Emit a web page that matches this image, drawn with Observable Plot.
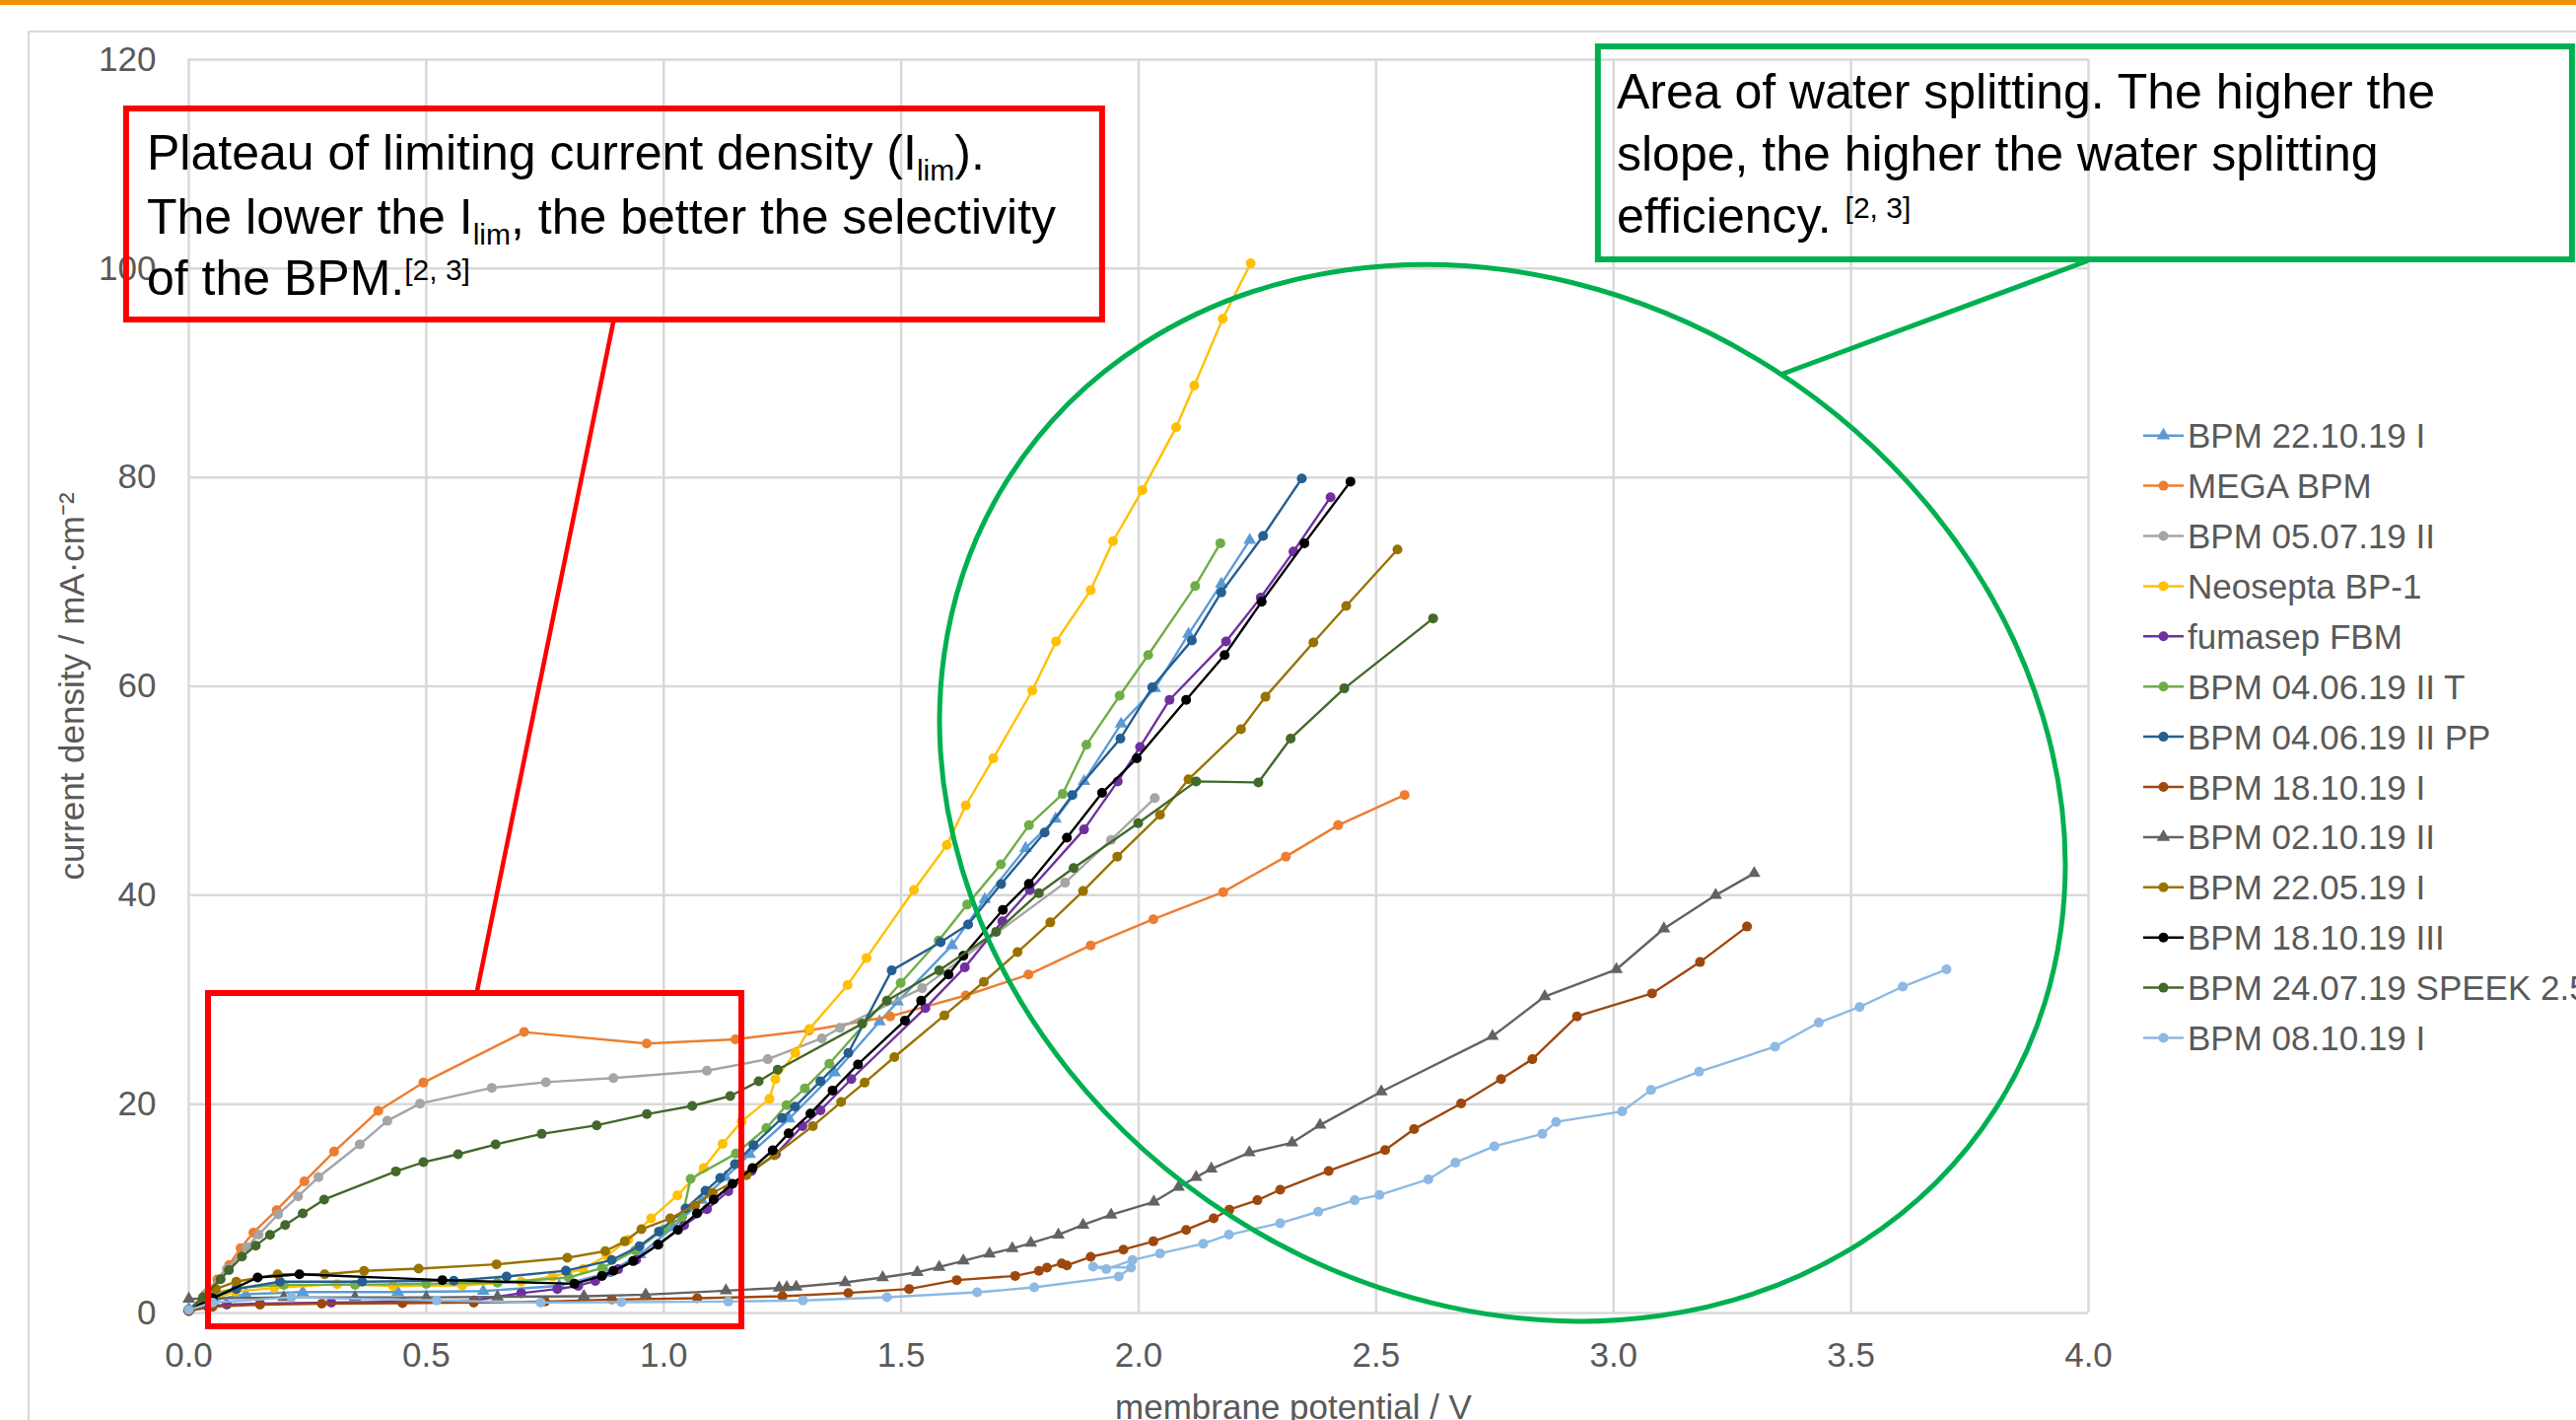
<!DOCTYPE html>
<html><head><meta charset="utf-8">
<script src="https://cdn.jsdelivr.net/npm/d3@7"></script>
<script src="https://cdn.jsdelivr.net/npm/@observablehq/plot@0.6"></script>
<style>
html,body{margin:0;padding:0;background:#fff;overflow:hidden;}
svg{display:block;overflow:hidden;}
</style></head><body>
<script>
// ---------- axis ticks ----------
const xTicks = [0, 0.5, 1, 1.5, 2, 2.5, 3, 3.5, 4];
const yTicks = [0, 20, 40, 60, 80, 100, 120];
const xLabel = "membrane potential / V";
const yLabel = "current density / mA·cm⁻²";

// ---------- series (membrane potential V, current density mA/cm²) ----------
const bpm221019I = [[0,0.4],[0.05,1.2],[0.12,1.8],[0.24,2.0],[0.44,2.0],[0.62,2.1],[0.78,2.6],[0.88,3.8],[0.95,5.6],[1.02,8.2],[1.08,10.8],[1.13,13.0],[1.181,15.2],[1.264,18.6],[1.36,23.0],[1.4545,27.9],[1.4925,29.8],[1.607,35.2],[1.676,39.6],[1.762,44.5],[1.825,47.3],[1.885,50.9],[1.963,56.4],[2.034,59.8],[2.105,65.0],[2.174,69.8],[2.234,74.0]];
const megaBPM = [[0,0.3],[0.035,1.8],[0.06,3.2],[0.085,4.6],[0.109,6.2],[0.136,7.7],[0.185,9.85],[0.2435,12.6],[0.306,15.45],[0.399,19.35],[0.494,22.06],[0.706,26.9],[0.964,25.8],[1.151,26.2],[1.306,27.05],[1.477,28.4],[1.636,30.4],[1.768,32.4],[1.899,35.2],[2.031,37.7],[2.178,40.3],[2.31,43.7],[2.42,46.7],[2.56,49.6]];
const bpm050719II = [[0,0.3],[0.04,2.0],[0.08,4.2],[0.122,6.3],[0.147,7.5],[0.188,9.44],[0.23,11.17],[0.273,13.0],[0.36,16.14],[0.418,18.4],[0.487,20.05],[0.638,21.56],[0.752,22.1],[0.894,22.5],[1.091,23.2],[1.219,24.3],[1.333,26.3],[1.371,27.3],[1.544,31.1],[1.845,41.2],[1.942,45.3],[2.034,49.3]];
const neoseptaBP1 = [[0,0.3],[0.05,1.3],[0.098,2.05],[0.18,2.4],[0.3125,2.77],[0.43,2.6],[0.576,2.65],[0.7,3.0],[0.766,3.5],[0.83,4.2],[0.88,5.5],[0.925,7.0],[0.9735,9.06],[1.029,11.27],[1.084,13.88],[1.124,16.2],[1.164,18.35],[1.2226,20.5],[1.235,22.4],[1.277,24.9],[1.307,27.2],[1.387,31.4],[1.427,34.0],[1.527,40.5],[1.596,44.8],[1.636,48.6],[1.694,53.1],[1.776,59.6],[1.826,64.3],[1.899,69.2],[1.946,73.9],[2.008,78.8],[2.079,84.8],[2.117,88.8],[2.177,95.2],[2.236,100.5]];
const fumasepFBM = [[0,0.2],[0.04,0.6],[0.08,0.8],[0.15,0.9],[0.3,1.0],[0.45,1.1],[0.6,1.2],[0.7,1.9],[0.776,2.3],[0.82,2.6],[0.856,3.08],[0.904,4.19],[0.942,5.1],[0.987,6.54],[1.043,8.4],[1.091,9.94],[1.136,11.67],[1.185,13.6],[1.236,15.2],[1.292,17.9],[1.33,19.4],[1.395,22.4],[1.551,29.2],[1.634,33.1],[1.713,37.5],[1.771,40.5],[1.885,46.3],[1.956,50.9],[2.003,54.2],[2.065,58.7],[2.184,64.3],[2.257,68.5],[2.326,72.9],[2.404,78.1]];
const bpm040619IIT = [[0,0.3],[0.05,1.8],[0.1,2.4],[0.2,2.7],[0.35,2.7],[0.5,2.8],[0.65,2.9],[0.8,3.4],[0.87,4.3],[0.94,6.0],[1.0,8.0],[1.039,9.2],[1.0566,12.84],[1.152,15.26],[1.216,17.7],[1.2585,19.9],[1.297,21.5],[1.3486,23.86],[1.499,31.6],[1.579,35.66],[1.639,39.1],[1.71,42.96],[1.769,46.7],[1.84,49.7],[1.89,54.4],[1.96,59.1],[2.02,63.0],[2.119,69.6],[2.172,73.7]];
const bpm040619IIPP = [[0,0.3],[0.05,1.5],[0.1,2.3],[0.192,3.0],[0.365,3.0],[0.558,3.1],[0.669,3.5],[0.794,4.05],[0.8905,5.07],[0.949,6.4],[0.99,7.8],[1.046,10.0],[1.088,11.7],[1.119,12.93],[1.15,14.26],[1.189,16.08],[1.249,18.66],[1.2766,19.76],[1.33,22.19],[1.3887,24.9],[1.48,32.8],[1.583,35.5],[1.641,37.2],[1.7104,41.07],[1.802,46.0],[1.8605,49.6],[1.9616,55.0],[2.0286,59.9],[2.112,64.4],[2.174,69.0],[2.262,74.4],[2.3435,79.9]];
const bpm181019I = [[0,0.2],[0.05,0.6],[0.15,0.8],[0.28,0.9],[0.45,0.95],[0.6,1.0],[0.75,1.1],[0.8905,1.29],[1.0705,1.42],[1.25,1.6],[1.3887,1.92],[1.5167,2.3],[1.617,3.15],[1.74,3.55],[1.79,4.03],[1.807,4.34],[1.838,4.75],[1.849,4.56],[1.899,5.38],[1.968,6.07],[2.031,6.86],[2.1,7.96],[2.158,9.06],[2.191,9.9],[2.25,10.8],[2.298,11.8],[2.4,13.6],[2.519,15.6],[2.58,17.6],[2.679,20.06],[2.763,22.4],[2.829,24.3],[2.923,28.4],[3.081,30.6],[3.182,33.6],[3.281,37.0]];
const bpm021019II = [[0,1.35],[0.05,1.4],[0.2,1.5],[0.35,1.5],[0.5,1.5],[0.65,1.55],[0.832,1.6],[0.962,1.76],[1.131,2.14],[1.243,2.4],[1.259,2.45],[1.279,2.5],[1.382,2.93],[1.461,3.4],[1.534,3.9],[1.58,4.4],[1.631,5.0],[1.686,5.66],[1.734,6.18],[1.773,6.7],[1.831,7.49],[1.883,8.43],[1.942,9.4],[2.032,10.64],[2.084,12.06],[2.121,13.0],[2.153,13.8],[2.233,15.36],[2.323,16.3],[2.382,18.0],[2.511,21.2],[2.745,26.5],[2.855,30.3],[3.006,32.9],[3.106,36.8],[3.215,40.0],[3.296,42.1]];
const bpm220519I = [[0,0.3],[0.057,2.3],[0.1,3.0],[0.187,3.7],[0.286,3.71],[0.369,4.03],[0.484,4.25],[0.648,4.66],[0.797,5.29],[0.877,5.92],[0.918,6.86],[0.953,8.02],[1.0137,9.06],[1.066,10.3],[1.103,11.49],[1.174,13.2],[1.233,15.1],[1.314,17.9],[1.3735,20.2],[1.423,22.06],[1.4856,24.5],[1.591,28.5],[1.674,31.7],[1.745,34.55],[1.814,37.4],[1.883,40.4],[1.955,43.7],[2.045,47.7],[2.105,51.1],[2.2155,55.9],[2.267,59.0],[2.368,64.2],[2.437,67.7],[2.545,73.1]];
const bpm181019III = [[0,0.3],[0.05,1.4],[0.145,3.4],[0.233,3.71],[0.534,3.15],[0.812,2.8],[0.87,3.55],[0.894,4.03],[0.9355,4.97],[0.9887,6.54],[1.03,7.96],[1.07,9.54],[1.105,10.86],[1.145,12.37],[1.187,13.88],[1.2295,15.58],[1.263,17.2],[1.309,19.1],[1.3555,21.3],[1.409,23.8],[1.508,28.0],[1.542,29.9],[1.5998,32.4],[1.631,34.2],[1.714,38.6],[1.769,41.1],[1.849,45.5],[1.923,49.8],[1.996,53.1],[2.1,58.7],[2.181,63.0],[2.259,68.1],[2.349,73.7],[2.446,79.6]];
const bpm240719SPEEK = [[0,0.3],[0.03,1.5],[0.067,3.24],[0.0844,4.1],[0.112,5.4],[0.141,6.45],[0.171,7.49],[0.203,8.43],[0.24,9.54],[0.285,10.86],[0.436,13.56],[0.494,14.44],[0.567,15.2],[0.646,16.14],[0.743,17.15],[0.859,17.97],[0.9645,19.04],[1.06,19.83],[1.14,20.77],[1.2,22.19],[1.24,23.3],[1.418,27.7],[1.47,29.9],[1.58,32.8],[1.7,36.5],[1.79,40.2],[1.863,42.6],[1.999,46.9],[2.121,50.9],[2.252,50.8],[2.32,55.0],[2.433,59.8],[2.62,66.5]];
const bpm081019I = [[0,0.3],[0.05,1.0],[0.216,1.5],[0.522,1.2],[0.741,1.0],[0.911,1.04],[1.136,1.1],[1.293,1.2],[1.47,1.51],[1.66,1.98],[1.78,2.45],[1.958,3.5],[1.984,4.34],[1.904,4.44],[1.932,4.2],[1.987,5.07],[2.045,5.7],[2.136,6.64],[2.19,7.5],[2.298,8.6],[2.378,9.7],[2.455,10.8],[2.507,11.3],[2.61,12.8],[2.667,14.4],[2.749,15.96],[2.85,17.15],[2.879,18.3],[3.018,19.3],[3.079,21.35],[3.18,23.1],[3.34,25.5],[3.432,27.8],[3.518,29.3],[3.609,31.25],[3.701,32.9]];

const seriesNames = ["BPM 22.10.19 I","MEGA BPM","BPM 05.07.19 II","Neosepta BP-1","fumasep FBM","BPM 04.06.19 II T","BPM 04.06.19 II PP","BPM 18.10.19 I","BPM 02.10.19 II","BPM 22.05.19 I","BPM 18.10.19 III","BPM 24.07.19 SPEEK 2.5","BPM 08.10.19 I"];
const seriesData = [bpm221019I, megaBPM, bpm050719II, neoseptaBP1, fumasepFBM, bpm040619IIT, bpm040619IIPP, bpm181019I, bpm021019II, bpm220519I, bpm181019III, bpm240719SPEEK, bpm081019I];
const seriesColors = ["#5B9BD5","#ED7D31","#A5A5A5","#FFC000","#7030A0","#70AD47","#255E91","#9E480E","#636363","#997300","#000000","#43682B","#8DB9E3"];
const seriesSymbols = ["triangle","circle","circle","circle","circle","circle","circle","circle","triangle","circle","circle","circle","circle"];

// ---------- annotations (data units) ----------
const redBox = {x1:-0.131, x2:1.924, y1:95.07, y2:115.28};
const redSmallBox = {x1:0.0415, x2:1.1645, y1:-1.32, y2:30.59};
const redLink = {x1:0.606, y1:30.59, x2:0.8947, y2:95.07};
const greenBox = {x1:2.968, x2:5.019, y1:100.83, y2:121.22};
const greenLink = {x1:3.998, y1:100.74, x2:3.354, y2:89.88};
const greenEllipse = {cx:2.767, cy:49.75};
const redText = [
  [{t:"Plateau of limiting current density (I"},{t:"lim",sub:true},{t:")."}],
  [{t:"The lower the I"},{t:"lim",sub:true},{t:", the better the selectivity"}],
  [{t:"of the BPM."},{t:"[2, 3]",sup:true}]
];
const redTextPos = {x:-0.0872, y:[109.42, 103.33, 97.48]};
const greenText = [
  [{t:"Area of water splitting. The higher the"}],
  [{t:"slope, the higher the water splitting"}],
  [{t:"efficiency. "},{t:"[2, 3]",sup:true}]
];
const greenTextPos = {x:3.0078, y:[115.28, 109.33, 103.38]};

// ---------- build plot ----------
const FONT = "'Liberation Sans', Arial, sans-serif";
const marks = [
  Plot.gridX({ticks: xTicks, stroke:"#D9D9D9", strokeOpacity:1, strokeWidth:2.5}),
  Plot.gridY({ticks: yTicks, stroke:"#D9D9D9", strokeOpacity:1, strokeWidth:2.5}),
  Plot.axisX({ticks: xTicks, tickSize:0, tickPadding:30, tickFormat: d => d.toFixed(1), fontSize:35, fill:"#595959", label:null}),
  Plot.axisY({ticks: yTicks, tickSize:0, tickPadding:33, fontSize:35, fill:"#595959", label:null}),
  Plot.text([yLabel], {frameAnchor:"left", dx:-118, rotate:-90, textAnchor:"middle", lineAnchor:"middle", fontSize:35, fill:"#595959"}),
  Plot.text([xLabel], {frameAnchor:"bottom", dx:157, dy:96, textAnchor:"middle", lineAnchor:"middle", fontSize:35, fill:"#595959"})
];
seriesData.forEach((data, i) => {
  marks.push(Plot.line(data, {x: d => d[0], y: d => d[1], stroke: seriesColors[i], strokeWidth: 2.4}));
  marks.push(Plot.dot(data, {x: d => d[0], y: d => d[1], fill: seriesColors[i], symbol: seriesSymbols[i], r: seriesSymbols[i] === "triangle" ? 4.8 : 5}));
});
marks.push(
  Plot.rect([redBox], {x1:"x1", x2:"x2", y1:"y1", y2:"y2", fill:"none", stroke:"#FF0000", strokeWidth:6}),
  Plot.rect([redSmallBox], {x1:"x1", x2:"x2", y1:"y1", y2:"y2", fill:"none", stroke:"#FF0000", strokeWidth:6}),
  Plot.link([redLink], {x1:"x1", y1:"y1", x2:"x2", y2:"y2", stroke:"#FF0000", strokeWidth:4.5}),
  Plot.rect([greenBox], {x1:"x1", x2:"x2", y1:"y1", y2:"y2", fill:"none", stroke:"#00B050", strokeWidth:6}),
  Plot.link([greenLink], {x1:"x1", y1:"y1", x2:"x2", y2:"y2", stroke:"#00B050", strokeWidth:5})
);

const svg = Plot.plot({
  width: 2613, height: 1440,
  marginLeft: 191, marginRight: 495, marginTop: 60, marginBottom: 109,
  x: {domain: [0, 4]},
  y: {domain: [0, 120]},
  style: {fontFamily: FONT, fontSize: "35px", color: "#595959", background: "#fff"},
  marks
});
document.body.appendChild(svg);

const sx = svg.scale("x"), sy = svg.scale("y");
const root = d3.select(svg);

// frame and top bar (behind)
root.insert("rect", ":first-child").attr("x", 29).attr("y", 32).attr("width", 2700).attr("height", 1500)
  .attr("fill", "none").attr("stroke", "#D9D9D9").attr("stroke-width", 2);
root.append("rect").attr("x", 0).attr("y", 0).attr("width", 2613).attr("height", 5).attr("fill", "#F0900A");

// ellipse
const ecx = sx.apply(greenEllipse.cx), ecy = sy.apply(greenEllipse.cy);
root.append("ellipse")
  .attr("cx", ecx).attr("cy", ecy)
  .attr("rx", 594).attr("ry", 510)
  .attr("transform", `rotate(32.6 ${ecx} ${ecy})`)
  .attr("fill", "none").attr("stroke", "#00B050").attr("stroke-width", 5);

// annotation texts
function drawText(lines, pos) {
  lines.forEach((parts, li) => {
    const t = root.append("text").attr("x", sx.apply(pos.x)).attr("y", sy.apply(pos.y[li]))
      .attr("text-anchor", "start")
      .attr("font-family", FONT).attr("font-size", 50).attr("fill", "#000").style("white-space", "pre");
    let shift = 0;
    parts.forEach(p => {
      const ts = t.append("tspan").text(p.t);
      const target = p.sub ? 11 : p.sup ? -15 : 0;
      if (p.sub || p.sup) ts.attr("font-size", 30);
      if (target !== shift) { ts.attr("dy", target - shift); shift = target; }
    });
  });
}
drawText(redText, redTextPos);
drawText(greenText, greenTextPos);

// legend
const legend = root.append("g");
seriesNames.forEach((name, i) => {
  const yc = 441.7 + 50.9 * i;
  legend.append("line").attr("x1", 2174).attr("x2", 2215).attr("y1", yc).attr("y2", yc)
    .attr("stroke", seriesColors[i]).attr("stroke-width", 2.5);
  if (seriesSymbols[i] === "triangle") {
    legend.append("path").attr("d", d3.symbol(d3.symbolTriangle, 80)()).attr("transform", `translate(2194.5,${yc})`).attr("fill", seriesColors[i]);
  } else {
    legend.append("circle").attr("cx", 2194.5).attr("cy", yc).attr("r", 5).attr("fill", seriesColors[i]);
  }
  legend.append("text").attr("x", 2219).attr("y", yc + 12.5).attr("text-anchor", "start")
    .attr("font-family", FONT).attr("font-size", 35)
    .attr("fill", "#595959").text(name);
});
</script>
</body></html>
